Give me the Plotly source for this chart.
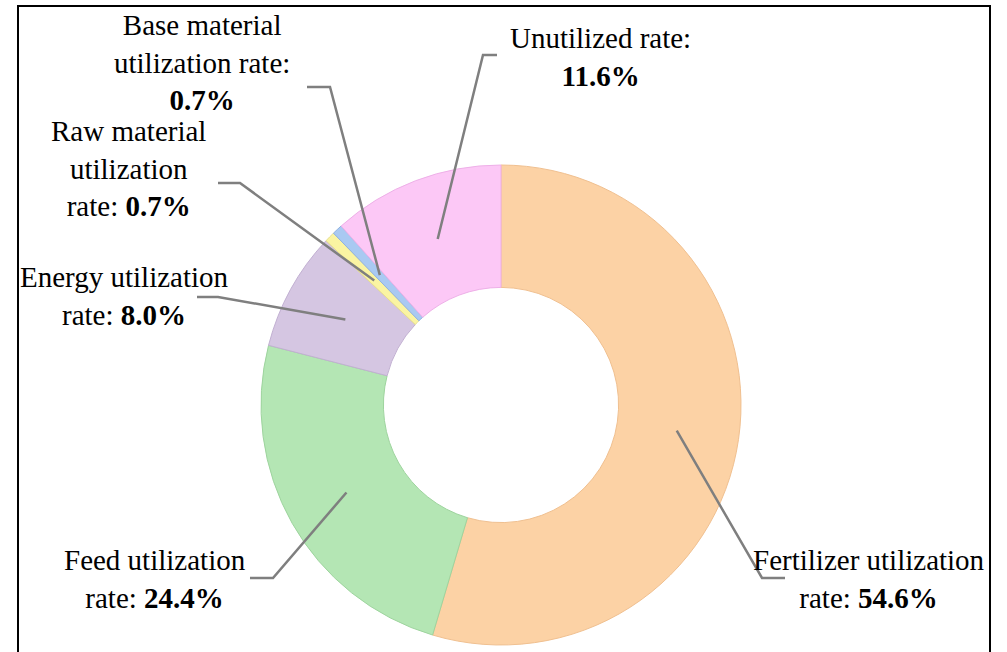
import math
import plotly.graph_objects as go

W, H = 1007, 652

categories = ["Fertilizer utilization rate", "Feed utilization rate", "Energy utilization rate",
              "Raw material utilization rate", "Base material utilization rate", "Unutilized rate"]
values = [54.6, 24.4, 8.0, 0.7, 0.7, 11.6]
colors = ["#FCD2A5", "#B4E6B4", "#D5C6E2", "#FAF4A2", "#A9C9F2", "#FCC8F6"]
edge_colors = ["#F0C090", "#9ED49E", "#C2B0D2", "#E8E08C", "#8FB2E0", "#EEB0E8"]

label_text = [
    "Fertilizer utilization<br>rate: <b>54.6%</b>",
    "Feed utilization<br>rate: <b>24.4%</b>",
    "Energy utilization<br>rate: <b>8.0%</b>",
    "Raw material<br>utilization<br>rate: <b>0.7%</b>",
    "Base material<br>utilization rate:<br><b>0.7%</b>",
    "Unutilized rate:<br><b>11.6%</b>",
]
# label centers and leader-line elbows, in pixels
label_pos = [(869, 579), (155, 579), (124, 296), (128, 169), (202, 62), (600, 57)]
elbows = [[(785, 578), (762, 578)], [(250, 578), (273, 578)], [(197, 297), (218, 297)],
          [(218, 183), (240, 183)], [(307, 87), (330, 87)], [(497, 55), (483, 55)]]

cx, cy, R = 501, 405, 240


def px(x, y):
    return x / W, 1 - y / H


dx0, dy1 = px(cx - R, cy - R)
dx1, dy0 = px(cx + R, cy + R)

fig = go.Figure(go.Pie(
    labels=categories,
    values=values,
    hole=0.49,
    sort=False,
    direction="clockwise",
    rotation=0,
    textinfo="none",
    marker=dict(colors=colors, line=dict(color=edge_colors, width=1)),
    domain=dict(x=[dx0, dx1], y=[dy0, dy1]),
    showlegend=False,
))

shapes = []
total = sum(values)
cum = 0
for i, v in enumerate(values):
    mid = (cum + v / 2) / total * 2 * math.pi
    cum += v
    ax = cx + 0.74 * R * math.sin(mid)
    ay = cy - 0.74 * R * math.cos(mid)
    pts = elbows[i] + [(ax, ay)]
    path = "M " + " L ".join("%f,%f" % px(x, y) for x, y in pts)
    shapes.append(dict(type="path", path=path, xref="paper", yref="paper",
                       line=dict(color="#7F7F7F", width=2.5)))

# outer frame
x0, y0 = px(18, 6)
x1, y1 = px(990, 670)
shapes.append(dict(type="rect", xref="paper", yref="paper", x0=x0, y0=y1, x1=x1, y1=y0,
                   line=dict(color="black", width=2)))

annotations = []
for t, (lx, ly) in zip(label_text, label_pos):
    x, y = px(lx, ly)
    annotations.append(dict(text=t, x=x, y=y, xref="paper", yref="paper", showarrow=False,
                            xanchor="center", yanchor="middle", align="center",
                            font=dict(family="Times New Roman, Liberation Serif, serif",
                                      size=29, color="black")))

fig.update_layout(
    width=W, height=H,
    margin=dict(l=0, r=0, t=0, b=0),
    paper_bgcolor="white",
    shapes=shapes,
    annotations=annotations,
)

# drop the default page margin so the figure sits at the window's corner
fig.write_html("out.html", config={"displayModeBar": False},
               post_script="document.body.style.margin = '0';")
